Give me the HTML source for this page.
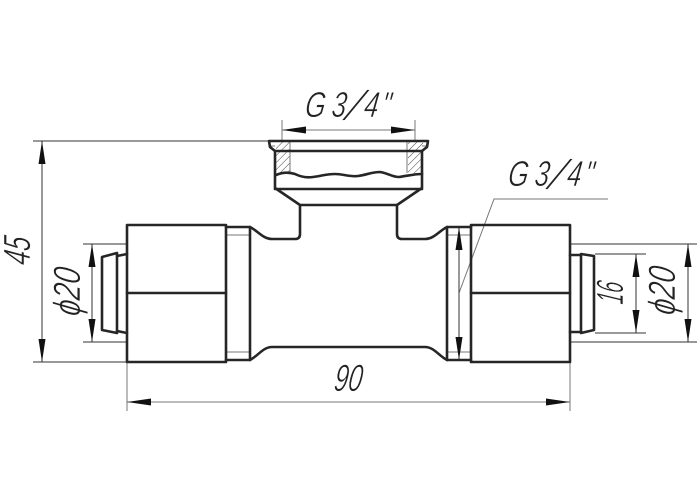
<!DOCTYPE html>
<html>
<head>
<meta charset="utf-8">
<style>
html,body{margin:0;padding:0;background:#fff;width:700px;height:500px;overflow:hidden}
svg{display:block}
text{font-family:"Liberation Sans",sans-serif;font-style:italic;fill:#222;stroke:#fff;stroke-width:.6px}
.k{fill:none;stroke:#262626;stroke-width:2.6;stroke-linejoin:round;stroke-linecap:round}
.t{fill:none;stroke:#333;stroke-width:1}
.g{fill:none;stroke:#777;stroke-width:1}
.a{fill:#111;stroke:none}
</style>
</head>
<body>
<svg width="700" height="500" viewBox="0 0 700 500" xmlns="http://www.w3.org/2000/svg">
<defs>
<pattern id="hatch" width="5" height="5" patternUnits="userSpaceOnUse" patternTransform="rotate(45)">
<line x1="0" y1="0" x2="0" y2="5" stroke="#444" stroke-width="1"/>
</pattern>
</defs>

<!-- hatching -->
<rect x="276" y="142" width="14" height="32" fill="url(#hatch)"/>
<rect x="408" y="142" width="15" height="32" fill="url(#hatch)"/>
<path class="g" d="M290 142V173M407 142V173M271 146H275M422 146H427"/>

<!-- thin collar lines -->
<path class="g" d="M227 235H249M227 352H249M448 235H470M448 352H470"/>

<!-- extension lines -->
<path class="t" d="M33 141H269M33 362H127M83 244H127M83 342H127"/>
<path class="t" d="M570 244H697M570 342H697M595 254H646M595 333H646"/>
<path class="g" d="M127 362V411M570 362V411M282 120V141M415 120V141"/>
<path class="g" d="M459 293L494 199H608"/>

<!-- dimension lines -->
<path class="t" d="M42 141V362M92 244V342M636 254V333M688 244V342M459 227V360"/>
<path class="g" d="M127 402H570M282 130H415"/>

<!-- arrowheads -->
<path class="a" d="M42 141l-3.500 23h7zM42 362l-3.500 -23h7z"/>
<path class="a" d="M92 244l-3.500 23h7zM92 342l-3.500 -23h7z"/>
<path class="a" d="M636 254l-3.500 23h7zM636 333l-3.500 -23h7z"/>
<path class="a" d="M688 244l-3.500 23h7zM688 342l-3.500 -23h7z"/>
<path class="a" d="M459 227l-3.500 23h7zM459 360l-3.500 -23h7z"/>
<path class="a" d="M127 402l24 -3.500v7zM570 402l-24 -3.500v7z"/>
<path class="a" d="M282 130l24 -3.500v7zM415 130l-24 -3.500v7z"/>

<!-- top fitting -->
<path class="k" d="M269 141H428L427 147L422 151H275L270 147Z"/>
<path class="k" d="M275 151V188L300 205H397L422 188V151"/>
<path class="k" d="M275 189H422"/>
<path class="k" d="M276 175C283 172 289 172 295 174C301 177 306 178 313 177C321 176 327 174 335 174C343 174 350 177 358 176C366 175 372 172 380 172C388 173 392 177 399 177C407 176 414 174 422 174"/>

<!-- body -->
<path class="k" d="M250 227C258 231 263 239 272 239H295Q300 239 300 234V205"/>
<path class="k" d="M397 205V234Q397 239 402 239H425C434 239 439 231 447 227"/>
<path class="k" d="M250 360C258 356 263 347 272 347H425C434 347 439 356 447 360"/>

<!-- left nut and collar -->
<rect class="k" x="127" y="225" width="99" height="137"/>
<path class="k" d="M127 293H226"/>
<path class="k" d="M226 227H250V360H226"/>

<!-- right nut and collar -->
<rect class="k" x="471" y="225" width="99" height="137"/>
<path class="k" d="M471 293H570"/>
<path class="k" d="M471 227H447V360H471"/>

<!-- left stub -->
<path class="k" d="M127 254L117 256M127 333L117 331"/>
<path class="k" d="M117 253V333L102 330V257Z"/>

<!-- right stub -->
<path class="k" d="M570 255H581M570 332H581"/>
<path class="k" d="M581 254L594 256V330L581 333Z"/>

<!-- labels -->
<g transform="translate(304 117) skewX(-8) scale(.72 1)">
<text font-size="36"><tspan x="0">G</tspan><tspan x="37">3</tspan><tspan x="82">4</tspan><tspan x="106">"</tspan></text>
</g>
<text transform="translate(344 120) skewX(-22) scale(.9 1)" font-size="42">/</text>
<g transform="translate(507 186) skewX(-8) scale(.72 1)">
<text font-size="36"><tspan x="0">G</tspan><tspan x="37">3</tspan><tspan x="82">4</tspan><tspan x="106">"</tspan></text>
</g>
<text transform="translate(547 189) skewX(-22) scale(.9 1)" font-size="42">/</text>
<text transform="translate(333 391) skewX(-8)" font-size="38" textLength="28" lengthAdjust="spacingAndGlyphs">90</text>
<text transform="translate(30 266) rotate(-90) skewX(-8)" font-size="38" textLength="28" lengthAdjust="spacingAndGlyphs">45</text>
<text transform="translate(80 317) rotate(-90) skewX(-8)" font-size="38" textLength="48" lengthAdjust="spacingAndGlyphs">ϕ20</text>
<text transform="translate(623 305) rotate(-90) skewX(-8)" font-size="38" textLength="22" lengthAdjust="spacingAndGlyphs">16</text>
<text transform="translate(675 316) rotate(-90) skewX(-8)" font-size="38" textLength="48" lengthAdjust="spacingAndGlyphs">ϕ20</text>
</svg>
</body>
</html>
